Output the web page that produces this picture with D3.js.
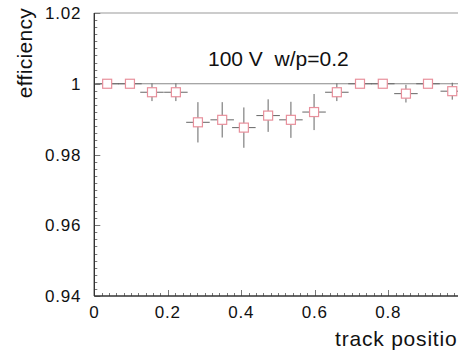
<!DOCTYPE html>
<html>
<head>
<meta charset="utf-8">
<script src="https://cdn.jsdelivr.net/npm/d3@7"></script>
<style>
  html, body { margin: 0; padding: 0; background: #fff; }
  svg { display: block; font-family: "Liberation Sans", Arial, sans-serif; }
</style>
</head>
<body>
<svg id="chart" width="458" height="353"></svg>
<script>
// ── Data ──────────────────────────────────────────────────────────────────────
const trackPos = [0.035, 0.097, 0.157, 0.222, 0.282, 0.348, 0.407, 0.473,
                  0.535, 0.598, 0.660, 0.723, 0.785, 0.848, 0.908, 0.974];
const efficiency = [1.0, 1.0, 0.9976, 0.9976, 0.9891, 0.9898, 0.9876, 0.9910,
                    0.9898, 0.9920, 0.9976, 1.0, 1.0, 0.9972, 1.0, 0.9979];
const effErr = [0, 0, 0.0025, 0.0025, 0.0057, 0.0050, 0.0057, 0.0046,
                0.0051, 0.0051, 0.0025, 0, 0, 0.0025, 0, 0.0024];
const posErr = 0.032;
const xTicks = [0, 0.2, 0.4, 0.6, 0.8];
const yTicks = [0.94, 0.96, 0.98, 1, 1.02];
const title = "100 V  w/p=0.2";

// ── Layout ────────────────────────────────────────────────────────────────────
const svg = d3.select("#chart");
const padL = 94.3, padR = 461.8, padT = 13, padB = 296;

const x = d3.scaleLinear().domain([0, 1]).range([padL, padR]);
const y = d3.scaleLinear().domain([0.94, 1.02]).range([padB, padT]);

const axisColor = "#333";
const markColor = "#e8909c";

// frame top + reference line at efficiency = 1
svg.append("line")
  .attr("x1", padL).attr("x2", padR)
  .attr("y1", y(1.02)).attr("y2", y(1.02))
  .attr("stroke", "#999").attr("stroke-width", 1.2);
svg.append("line")
  .attr("x1", padL).attr("x2", padR)
  .attr("y1", y(1)).attr("y2", y(1))
  .attr("stroke", "#888").attr("stroke-width", 1.2);

// minor / major ticks, drawn on the inside like ROOT does
const yMinor = d3.range(0.94, 1.0201, 0.002);
svg.append("g").selectAll("line")
  .data(yMinor)
  .join("line")
  .attr("x1", padL)
  .attr("x2", (d, i) => padL + (i % 10 === 0 ? 6 : 3))
  .attr("y1", (d) => Math.round(y(d)) + 0.5)
  .attr("y2", (d) => Math.round(y(d)) + 0.5)
  .attr("stroke", "#777").attr("stroke-width", 1);

const xMinor = d3.range(0, 1.0001, 0.02);
svg.append("g").selectAll("line")
  .data(xMinor)
  .join("line")
  .attr("x1", (d) => Math.round(x(d)) + 0.5)
  .attr("x2", (d) => Math.round(x(d)) + 0.5)
  .attr("y1", padB)
  .attr("y2", (d, i) => padB - (i % 10 === 0 ? 6 : 3))
  .attr("stroke", "#777").attr("stroke-width", 1);

// axis lines
svg.append("line")
  .attr("x1", padL).attr("x2", padL)
  .attr("y1", padT).attr("y2", padB)
  .attr("stroke", axisColor).attr("stroke-width", 1.4);
svg.append("line")
  .attr("x1", padL).attr("x2", padR)
  .attr("y1", padB).attr("y2", padB)
  .attr("stroke", axisColor).attr("stroke-width", 1.4);

// tick labels
svg.append("g").selectAll("text")
  .data(yTicks)
  .join("text")
  .attr("x", padL - 13)
  .attr("y", (d) => y(d) + 6)
  .attr("text-anchor", "end")
  .attr("font-size", 17)
  .attr("letter-spacing", 0.8)
  .attr("fill", "#111")
  .text((d) => String(+d.toFixed(2)));

svg.append("g").selectAll("text")
  .data(xTicks)
  .join("text")
  .attr("x", (d) => x(d))
  .attr("y", padB + 22)
  .attr("text-anchor", "middle")
  .attr("font-size", 17)
  .attr("letter-spacing", 0.8)
  .attr("fill", "#111")
  .text((d) => String(d));

// axis titles
svg.append("text")
  .attr("transform", `translate(32,8) rotate(-90)`)
  .attr("text-anchor", "end")
  .attr("font-size", 21)
  .attr("letter-spacing", 0.3)
  .attr("fill", "#111")
  .text("efficiency");

// the reference crops this title at the right edge
svg.append("text")
  .attr("x", 335)
  .attr("y", 346)
  .attr("font-size", 21)
  .attr("letter-spacing", 0.8)
  .attr("fill", "#111")
  .text("track position");

svg.append("text")
  .attr("x", 208)
  .attr("y", 66)
  .attr("font-size", 21)
  .style("white-space", "pre")
  .attr("fill", "#111")
  .text(title);

// ── Points with error bars ────────────────────────────────────────────────────
const pts = trackPos.map((p, i) => ({ p, e: efficiency[i], err: effErr[i] }));
const half = 4.5;

const g = svg.append("g").selectAll("g")
  .data(pts)
  .join("g")
  .attr("transform", (d) => `translate(${x(d.p)},${y(d.e)})`);

g.append("line") // horizontal bar (bin width)
  .attr("x1", (d) => x(d.p - posErr) - x(d.p))
  .attr("x2", (d) => x(d.p + posErr) - x(d.p))
  .attr("y1", 0).attr("y2", 0)
  .attr("stroke", "#666").attr("stroke-width", 1);

g.filter((d) => d.err > 0).append("line")
  .attr("x1", 0).attr("x2", 0)
  .attr("y1", (d) => y(d.e + d.err) - y(d.e))
  .attr("y2", (d) => y(d.e - d.err) - y(d.e))
  .attr("stroke", "#666").attr("stroke-width", 1);

g.append("rect")
  .attr("x", -half).attr("y", -half)
  .attr("width", half * 2).attr("height", half * 2)
  .attr("fill", "#fff")
  .attr("stroke", markColor).attr("stroke-width", 1.2);
</script>
</body>
</html>
